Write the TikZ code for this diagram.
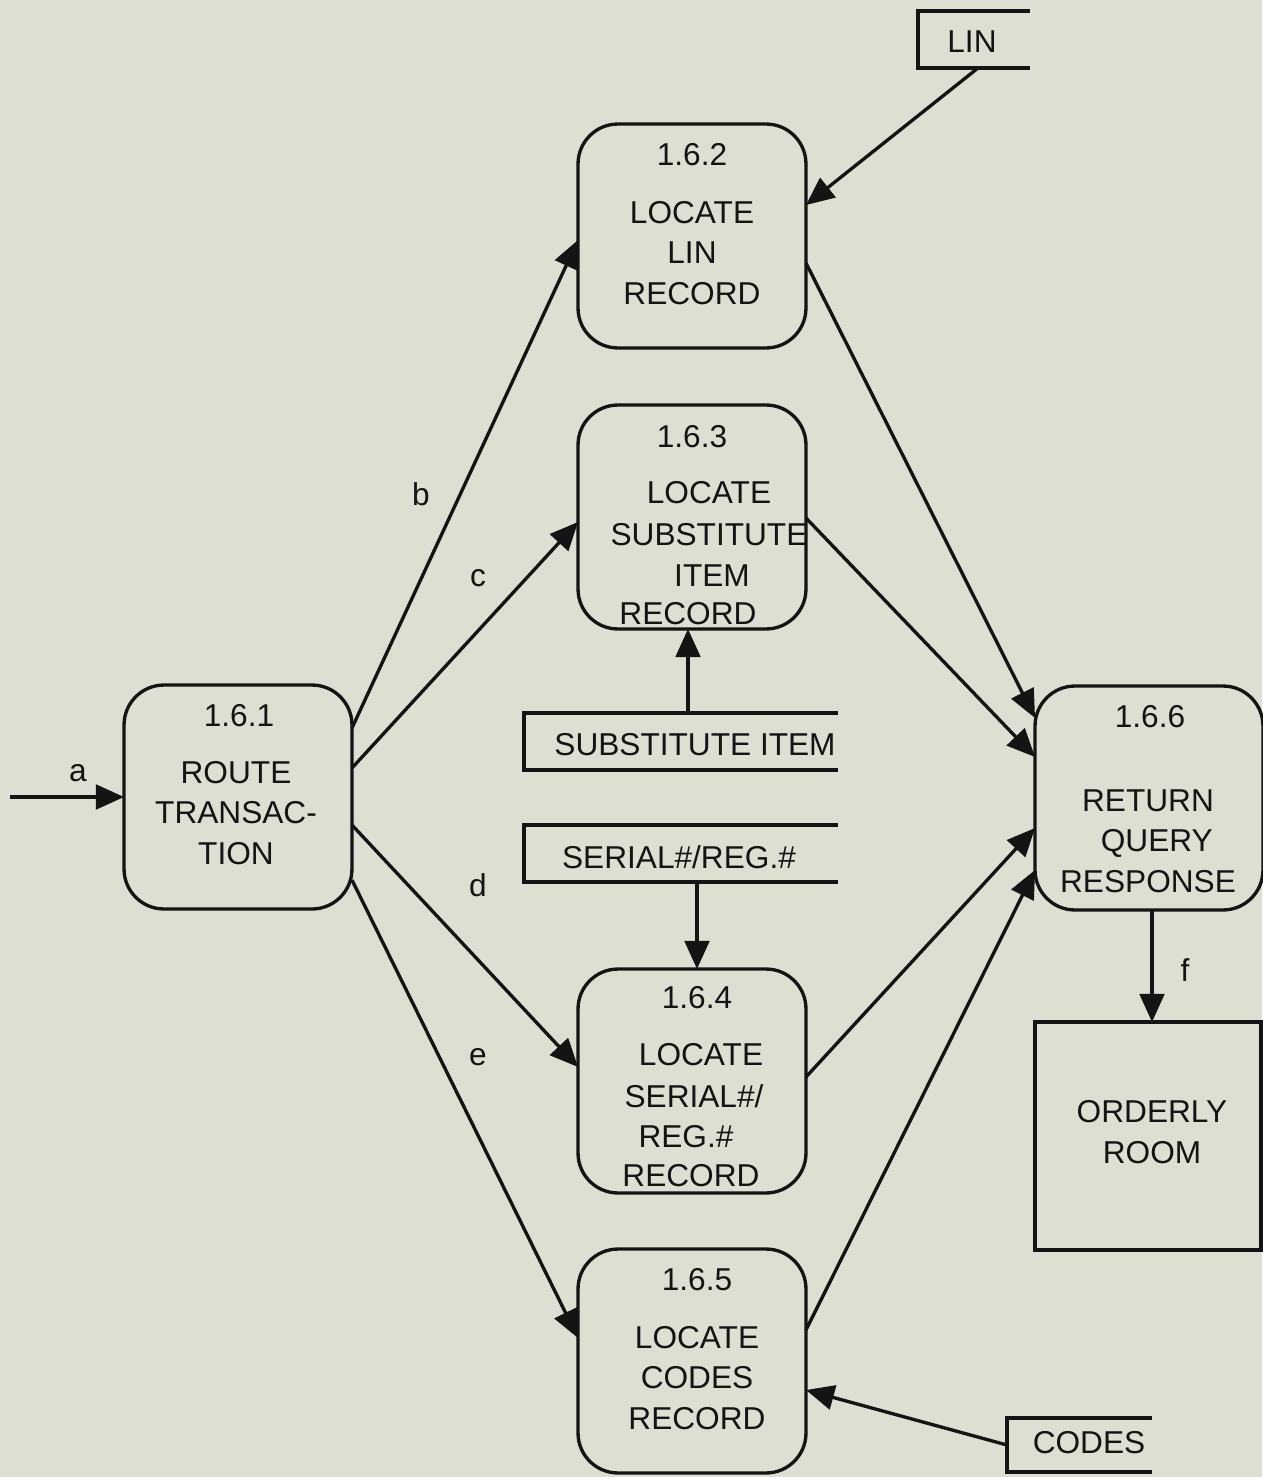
\documentclass[tikz,border=0pt]{standalone}
\usepackage{fontspec}
\setmainfont{Liberation Sans}
\usetikzlibrary{arrows.meta,calc}
\definecolor{paper}{RGB}{221,223,211}
\definecolor{ink}{RGB}{20,20,20}
\begin{document}
\begin{tikzpicture}[x=0.02cm,y=-0.02cm,
  line width=1.9pt, draw=ink,
  proc/.style={draw=ink, rounded corners=0.8cm, minimum width=4.56cm,
    minimum height=4.48cm, outer sep=0pt, inner sep=0pt},
  ext/.style={draw=ink, minimum width=4.52cm, minimum height=4.56cm,
    outer sep=0pt, inner sep=0pt},
  txt/.style={font=\fontsize{18}{23}\selectfont, text=ink, align=center, inner sep=0pt},
  flow/.style={draw=ink, -{Triangle[length=16pt,width=14pt]}},
]
% page
\fill[paper] (0,0) rectangle (1262,1477);
\useasboundingbox (0,0) rectangle (1262,1477);

% processes
\node[proc] (p1) at (238,797) {};
\node[proc] (p2) at (692,236) {};
\node[proc] (p3) at (692,517) {};
\node[proc] (p4) at (692,1081) {};
\node[proc] (p5) at (692,1361) {};
\node[proc] (p6) at (1149,798) {};
\node[ext]  (room) at (1148,1136) {};

% process numbers
\node[txt] (n1) at (239,716) {1.6.1};
\node[txt] (n2) at (692,155) {1.6.2};
\node[txt] (n3) at (692,437) {1.6.3};
\node[txt] (n4) at (697,998) {1.6.4};
\node[txt] (n5) at (697,1280) {1.6.5};
\node[txt] (n6) at (1150,717) {1.6.6};

% process titles
\node[txt] (t1) at (236,813) {ROUTE\\TRANSAC-\\TION};
\node[txt] (t2) at (692,253) {LOCATE\\LIN\\RECORD};
\node[txt] (t3a) at (709,493) {LOCATE};
\node[txt] (t3b) at (709,535) {SUBSTITUTE};
\node[txt] (t3c) at (712,576) {ITEM};
\node[txt] (t3d) at (688,614) {RECORD};
\node[txt] (t4a) at (701,1055) {LOCATE};
\node[txt] (t4b) at (694,1096) {SERIAL\#/};
\node[txt] (t4c) at (686,1137) {REG.\#};
\node[txt] (t4d) at (691,1176) {RECORD};
\node[txt] (t5) at (697,1378) {LOCATE\\CODES\\RECORD};
\node[txt] (t6) at (1148,841) {RETURN\\\hspace*{10pt}QUERY\\RESPONSE};
\node[txt] (t7) at (1152,1132) {ORDERLY\\ROOM};

% data stores (open on the right)
\draw (1030,11) -- (918,11) -- (918,68) -- (1030,68);
\node[txt] (sLin) at (972,42) {LIN};
\coordinate (sLinOut) at (978,68);

\draw (838,713) -- (524,713) -- (524,770) -- (838,770);
\node[txt] (sSub) at (695,745) {SUBSTITUTE ITEM};
\coordinate (sSubOut) at (688,713);

\draw (838,825) -- (524,825) -- (524,882) -- (838,882);
\node[txt] (sSer) at (679,857) {SERIAL\#/REG.\#};
\coordinate (sSerOut) at (697,882);

\draw (1152,1418) -- (1007,1418) -- (1007,1472) -- (1152,1472);
\node[txt] (sCod) at (1089,1443) {CODES};
\coordinate (sCodOut) at (1007,1445);

% external input
\coordinate (src) at (10,797);
\draw[flow] (src) -- (p1.west);
\node[txt] (la) at (78,773) {a};

% routing flows
\draw[flow] (p1.east |- 0,728) -- (p2.west |- 0,240);
\draw[flow] (p1.east |- 0,768) -- (p3.west |- 0,522);
\draw[flow] (p1.east |- 0,825) -- (p4.west |- 0,1067);
\draw[flow] (p1.east |- 0,880) -- (p5.west |- 0,1338);
\node[txt] (lb) at (421,494) {b};
\node[txt] (lc) at (478,578) {c};
\node[txt] (ld) at (478,885) {d};
\node[txt] (le) at (478,1057) {e};

% store reads
\draw[flow] (sLinOut) -- (p2.east |- 0,205);
\draw[flow] (sSubOut) -- (sSubOut |- p3.south);
\draw[flow] (sSerOut) -- (sSerOut |- p4.north);
\draw[flow] (sCodOut) -- (p5.east |- 0,1390);

% results to response
\draw[flow] (p2.east |- 0,263) -- (p6.west |- 0,718);
\draw[flow] (p3.east |- 0,518) -- (p6.west |- 0,757);
\draw[flow] (p4.east |- 0,1077) -- (p6.west |- 0,828);
\draw[flow] (p5.east |- 0,1330) -- (p6.west |- 0,870);

% output
\draw[flow] (p6.south -| 1152,0) -- (room.north -| 1152,0);
\node[txt] (lf) at (1185,970) {f};
\end{tikzpicture}
\end{document}
